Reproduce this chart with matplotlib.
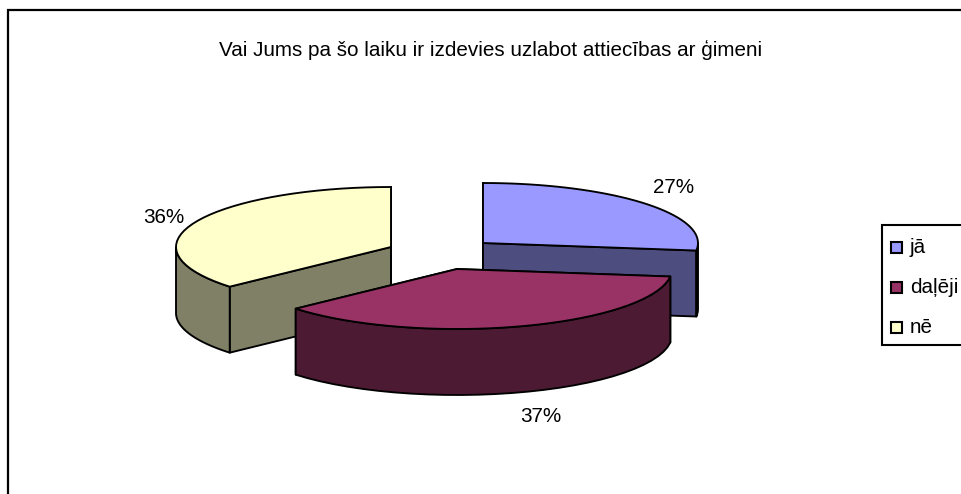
import numpy as np
import matplotlib
matplotlib.use("Agg")
import matplotlib.pyplot as plt
from matplotlib.patches import Polygon, Rectangle

title = "Vai Jums pa šo laiku ir izdevies uzlabot attiecības ar ģimeni"
categories = ["jā", "daļēji", "nē"]
# shares behind the rounded labels, read from the slice edges
shares = [27.0, 36.5, 36.5]
pct_labels = ["27%", "37%", "36%"]

top_colors = ["#9999FF", "#993366", "#FFFFCC"]
side_colors = ["#4D4D80", "#4D1A33", "#808066"]

# layout in pixels
W, H = 961, 494
rx, ry = 215, 60
depth = 66
centers = [(483, 243), (457, 269), (391, 247)]
label_pos = [(674, 187), (541, 416), (164, 217)]
legend_rows = [247, 287, 327]
draw_order = [2, 0, 1]
FS = 14.9

plt.rcParams["font.family"] = ["Liberation Sans", "DejaVu Sans"]
fig = plt.figure(figsize=(W / 100, H / 100), dpi=100)
ax = fig.add_axes([0, 0, 1, 1])
ax.set_xlim(0, W)
ax.set_ylim(H, 0)
ax.axis("off")

LW = 1.35


def rim(c, theta):
    # theta is clockwise from the top of the pie, in degrees
    t = np.radians(theta)
    return np.column_stack([c[0] + rx * np.sin(t), c[1] - ry * np.cos(t)])


def add_poly(pts, color):
    ax.add_patch(Polygon(pts, closed=True, facecolor=color, edgecolor="black",
                         linewidth=LW, joinstyle="round"))


# chart frame, runs off the right and bottom of the picture
ax.add_patch(Rectangle((7.5, 10), W, H, facecolor="white", edgecolor="black",
                       linewidth=1.6))

edges = np.cumsum([0] + shares) * 3.6

for i in draw_order:
    c = centers[i]
    a, b = edges[i], edges[i + 1]
    down = np.array([0, depth])
    apex = np.array([c])

    # cut faces
    for ang in (a, b):
        p = rim(c, [ang])
        add_poly(np.vstack([apex, p, p + down, apex + down]), side_colors[i])

    # outer wall, only the part facing the viewer
    lo, hi = max(a, 90), min(b, 270)
    if hi > lo:
        arc = rim(c, np.linspace(lo, hi, 30))
        add_poly(np.vstack([arc, (arc + down)[::-1]]), side_colors[i])

    # top
    arc = rim(c, np.linspace(a, b, 40))
    add_poly(np.vstack([apex, arc]), top_colors[i])

for (x, y), s in zip(label_pos, pct_labels):
    ax.text(x, y, s, ha="center", va="center", fontsize=FS, color="black")

ax.text(491, 50, title, ha="center", va="center", fontsize=FS, color="black")

# legend
ax.add_patch(Rectangle((882, 225), 120, 120, facecolor="white", edgecolor="black",
                       linewidth=1.5, clip_on=True))
for y, name, col in zip(legend_rows, categories, top_colors):
    ax.add_patch(Rectangle((890.5, y - 5.5), 11, 11, facecolor=col, edgecolor="black",
                           linewidth=1.5))
    ax.text(910, y, name, ha="left", va="center", fontsize=FS, color="black")

fig.savefig("out.png", dpi=100)
